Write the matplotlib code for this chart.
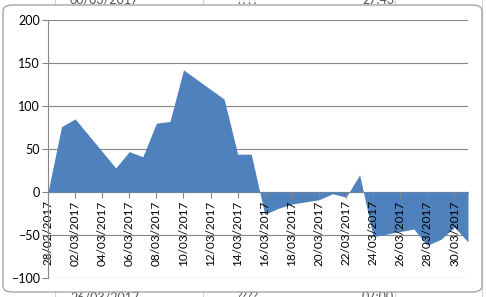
import matplotlib
matplotlib.use('Agg')
import matplotlib.pyplot as plt
import matplotlib.dates as mdates
from matplotlib.patches import FancyBboxPatch
import numpy as np
import pandas as pd

# valores (fecha, valor)
fechas = ['2017-02-28', '2017-03-01', '2017-03-02', '2017-03-05', '2017-03-06',
          '2017-03-07', '2017-03-08', '2017-03-09', '2017-03-10', '2017-03-13',
          '2017-03-14', '2017-03-15', '2017-03-16', '2017-03-17', '2017-03-18',
          '2017-03-20', '2017-03-21', '2017-03-22', '2017-03-23', '2017-03-24',
          '2017-03-25', '2017-03-26', '2017-03-27', '2017-03-28', '2017-03-29',
          '2017-03-30', '2017-03-31']
valores = [0, 76, 85, 28, 47,
           41, 80, 82, 142, 108,
           44, 44, -26, -19, -14,
           -9, -2, -6, 20, -52,
           -49, -46, -43, -62, -55,
           -41, -58]
y_ticks = [-100, -50, 0, 50, 100, 150, 200]

plt.rcParams['font.family'] = ['Lato', 'DejaVu Sans']
gris = '#868686'
azul = '#4F81BD'

x = pd.to_datetime(fechas)
y = np.array(valores)

fig = plt.figure(figsize=(4.86, 2.97), dpi=100)
fig.patch.set_facecolor('white')

# restos de la hoja de calculo detras del grafico
for t, px in [('06/03/2017', 70), ('????', 236), ('27.43', 362)]:
    fig.text(px / 486, 1.0, t, fontsize=9, color='#555555', va='center', zorder=-3)
for t, px in [('26/03/2017', 70), ('????', 236), ('07:00', 362)]:
    fig.text(px / 486, 0.0, t, fontsize=9, color='#555555', va='center', zorder=-3)
for px in [55, 203, 395, 482]:
    fig.add_artist(plt.Line2D([px / 486, px / 486], [0, 1], color='#d4d4d4', lw=0.8, zorder=-2))

caja = FancyBboxPatch((3 / 486, 5 / 297), 479 / 486, 287 / 297,
                      boxstyle='round,pad=0,rounding_size=0.02',
                      transform=fig.transFigure, facecolor='white',
                      edgecolor='#a6a6a6', lw=1.0, zorder=-1)
fig.patches.append(caja)

ax = fig.add_axes([48 / 486, 1 - 278 / 297, 420 / 486, 258 / 297])
ax.set_facecolor('none')

for v in y_ticks:
    ax.axhline(v, color=gris, lw=0.8, zorder=0.5)

ax.fill_between(x, y, 0, color=azul, lw=0, zorder=1)

ax.set_ylim(-100, 200)
ax.set_yticks(y_ticks)
ax.set_xlim(pd.Timestamp('2017-02-28'), pd.Timestamp('2017-03-31'))
ax.xaxis.set_major_locator(mdates.DayLocator(bymonthday=range(1, 32), interval=1))
ticks = pd.date_range('2017-02-28', '2017-03-30', freq='2D')
ax.set_xticks(ticks)
ax.xaxis.set_major_formatter(mdates.DateFormatter('%d/%m/%Y'))

for s in ['top', 'right']:
    ax.spines[s].set_visible(False)
ax.spines['bottom'].set_position(('data', 0))
ax.spines['bottom'].set_color(gris)
ax.spines['bottom'].set_zorder(0.6)
ax.spines['left'].set_color(gris)
ax.spines['left'].set_linewidth(0.8)
ax.spines['bottom'].set_linewidth(0.8)

ax.tick_params(axis='y', length=4, width=0.8, color=gris, labelsize=9, pad=2)
ax.tick_params(axis='x', length=4, width=0.8, color=gris, labelsize=8.5,
               labelrotation=90, pad=2)
for lab in ax.get_xticklabels():
    lab.set_zorder(5)

fig.savefig('out.png', dpi=100, facecolor=fig.get_facecolor())
